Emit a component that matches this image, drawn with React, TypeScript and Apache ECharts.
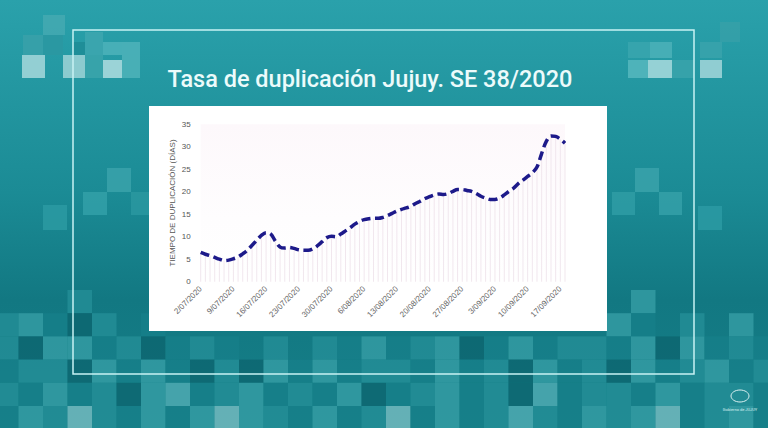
import React, { useEffect, useRef } from "react";
import * as echarts from "echarts";

const titleText = "Tasa de duplicación Jujuy. SE 38/2020";
const yAxisName = "TIEMPO DE DUPLICACIÓN (DÍAS)";
const yMin = 0;
const yMax = 35;
const yStep = 5;

// daily categories 2/07/2020 .. 18/09/2020
const startDate = { day: 2, month: 7, year: 2020 };
const dayCount = 79;
const dates: string[] = (() => {
  const out: string[] = [];
  const d = new Date(Date.UTC(startDate.year, startDate.month - 1, startDate.day));
  for (let i = 0; i < dayCount; i++) {
    out.push(`${d.getUTCDate()}/${String(d.getUTCMonth() + 1).padStart(2, "0")}/${d.getUTCFullYear()}`);
    d.setUTCDate(d.getUTCDate() + 1);
  }
  return out;
})();

const doublingDays: number[] = [
  6.5, 6.1, 5.8, 5.4, 5.0, 4.7, 4.8, 5.1, 5.5, 6.2,
  7.0, 8.1, 9.2, 10.3, 10.9, 10.6, 9.0, 7.7, 7.5, 7.6,
  7.4, 7.1, 7.0, 7.0, 7.3, 8.0, 8.9, 9.8, 10.1, 10.0,
  10.6, 11.3, 12.0, 12.8, 13.4, 13.8, 14.0, 14.1, 14.1, 14.3,
  14.7, 15.2, 15.7, 16.1, 16.4, 16.8, 17.4, 17.9, 18.5, 18.9,
  19.3, 19.5, 19.4, 19.6, 20.1, 20.5, 20.5, 20.3, 20.1, 19.6,
  19.0, 18.6, 18.3, 18.3, 18.6, 19.3, 20.1, 20.8, 21.8, 22.6,
  23.4, 24.2, 25.5, 28.5, 31.2, 32.4, 32.3, 31.7, 30.8,
];

// ---- decoration (background mosaic) ----
const shade: Record<string, string> = {
  "1": "#0c636c",
  "2": "#17808a",
  "3": "#26919a",
  "4": "#3aa2aa",
  "5": "#5ab4ba",
  "6": "#86c6ca",
};
const mosaicRows = [
  "00030000000000000000000000400000",
  "34213020000000000000000004203040",
  "31442312320303242341242332414232",
  "23314242131424233242314231423423",
  "32423145234232412342315233242332",
  "24363242464324236242353243462342",
];
const mosaicTop = 290;
const mosaicCellW = 24.5;
const mosaicCellH = 23.2;
const mosaicLeft = -6;

const looseSquares: [number, number, number, number, string][] = [
  [22, 55, 23, 23, "#a7d8dc"],
  [63, 55, 22, 23, "#9fd3d7"],
  [103, 60, 19, 18, "#b0dde0"],
  [85, 55, 18, 23, "#3ba4ac"],
  [122, 42, 18, 36, "#4fb3ba"],
  [23, 35, 20, 20, "#3aa1a9"],
  [43, 15, 22, 20, "#44a9b1"],
  [43, 35, 20, 20, "#2b98a1"],
  [73, 42, 12, 13, "#1f8c95"],
  [85, 32, 18, 23, "#3ea7af"],
  [103, 42, 19, 13, "#4db3ba"],
  [628, 42, 22, 16, "#3aa6ae"],
  [650, 42, 22, 16, "#4cb2b9"],
  [628, 60, 20, 18, "#56b7be"],
  [648, 60, 24, 18, "#a9dade"],
  [672, 60, 22, 18, "#3aa3ab"],
  [700, 60, 22, 18, "#a3d6da"],
  [700, 42, 22, 16, "#3aa3ab"],
  [720, 22, 20, 20, "#36a0a8"],
  [107, 168, 24, 24, "#3aa2aa"],
  [83, 192, 24, 23, "#33a0a8"],
  [131, 192, 18, 23, "#2a98a0"],
  [43, 205, 24, 25, "#2c9aa2"],
  [635, 168, 24, 24, "#3aa2aa"],
  [612, 192, 23, 23, "#2f9ca4"],
  [659, 192, 23, 23, "#35a0a8"],
  [698, 206, 24, 24, "#2b9aa3"],
];

function buildGraphics(): any[] {
  const els: any[] = [];
  els.push({
    type: "rect",
    z: -20,
    shape: { x: 0, y: 0, width: 768, height: 428 },
    style: {
      fill: new echarts.graphic.LinearGradient(0, 0, 0, 1, [
        { offset: 0, color: "#2aa1ab" },
        { offset: 0.45, color: "#1b8b95" },
        { offset: 0.7, color: "#127882" },
        { offset: 1, color: "#167f88" },
      ]),
    },
    silent: true,
  });
  mosaicRows.forEach((row, r) => {
    for (let c = 0; c < row.length; c++) {
      const k = row[c];
      if (k === "0") continue;
      els.push({
        type: "rect",
        z: -19,
        shape: {
          x: mosaicLeft + c * mosaicCellW,
          y: mosaicTop + r * mosaicCellH,
          width: mosaicCellW,
          height: mosaicCellH,
        },
        style: { fill: shade[k], opacity: 0.7 },
        silent: true,
      });
    }
  });
  looseSquares.forEach(([x, y, w, h, col]) => {
    els.push({
      type: "rect",
      z: -19,
      shape: { x, y, width: w, height: h },
      style: { fill: col, opacity: 0.85 },
      silent: true,
    });
  });
  // frame
  els.push({
    type: "rect",
    z: -18,
    shape: { x: 73, y: 30, width: 621, height: 344 },
    style: { fill: "none", stroke: "#c8f2f3", lineWidth: 1.5 },
    silent: true,
  });
  // white chart card
  els.push({
    type: "rect",
    z: -17,
    shape: { x: 149, y: 106, width: 458, height: 225 },
    style: { fill: "#ffffff" },
    silent: true,
  });
  // title
  els.push({
    type: "text",
    z: -16,
    x: 370,
    y: 79,
    style: {
      text: titleText,
      fill: "#ecfbfb",
      font: "500 23.5px Roboto",
      align: "center",
      verticalAlign: "middle",
    },
    silent: true,
  });
  // small logo bottom right
  els.push({
    type: "ellipse",
    z: -16,
    shape: { cx: 740, cy: 396, rx: 9, ry: 6 },
    style: { fill: "none", stroke: "#d9f0f1", lineWidth: 1 },
    silent: true,
  });
  els.push({
    type: "text",
    z: -16,
    x: 740,
    y: 409,
    style: {
      text: "Gobierno de JUJUY",
      fill: "#d9f0f1",
      font: "4px Roboto",
      align: "center",
      verticalAlign: "middle",
    },
    silent: true,
  });
  return els;
}

export default function App() {
  const ref = useRef<HTMLDivElement>(null);
  useEffect(() => {
    if (!ref.current) return;
    const chart = echarts.init(ref.current, undefined, { renderer: "svg" });
    chart.setOption({
      animation: false,
      graphic: { elements: buildGraphics() },
      grid: {
        left: 200.7,
        right: 203,
        top: 124.3,
        bottom: 146.3,
        show: true,
        borderWidth: 0,
        backgroundColor: new echarts.graphic.LinearGradient(0, 0, 0, 1, [
          { offset: 0, color: "#fdf8fb" },
          { offset: 0.6, color: "#fefdfe" },
          { offset: 1, color: "#ffffff" },
        ]),
      },
      xAxis: {
        type: "category",
        data: dates,
        boundaryGap: false,
        axisLine: { show: false },
        axisTick: { show: false },
        splitLine: { show: false },
        axisLabel: {
          interval: 6,
          rotate: 45,
          fontSize: 8,
          color: "#666666",
          margin: 6,
          fontFamily: "Liberation Sans, Arial, sans-serif",
        },
      },
      yAxis: {
        type: "value",
        min: yMin,
        max: yMax,
        interval: yStep,
        axisLine: { show: false },
        axisTick: { show: false },
        splitLine: { show: false },
        axisLabel: {
          fontSize: 8,
          color: "#555555",
          margin: 10,
          fontFamily: "Liberation Sans, Arial, sans-serif",
        },
        name: yAxisName,
        nameLocation: "middle",
        nameGap: 24,
        nameTextStyle: {
          fontSize: 8,
          color: "#555555",
          fontFamily: "Liberation Sans, Arial, sans-serif",
        },
      },
      series: [
        {
          type: "bar",
          data: doublingDays,
          barWidth: 1,
          itemStyle: { color: "#f1e7ee" },
          silent: true,
          z: 1,
        },
        {
          type: "line",
          data: doublingDays,
          smooth: 0.35,
          symbol: "none",
          lineStyle: { color: "#1d1a8a", width: 3.5, type: [9, 4.5] },
          silent: true,
          z: 3,
        },
      ],
    });
    return () => chart.dispose();
  }, []);
  return (
    <div
      ref={ref}
      style={{ position: "absolute", left: 0, top: 0, width: 768, height: 428 }}
    />
  );
}
